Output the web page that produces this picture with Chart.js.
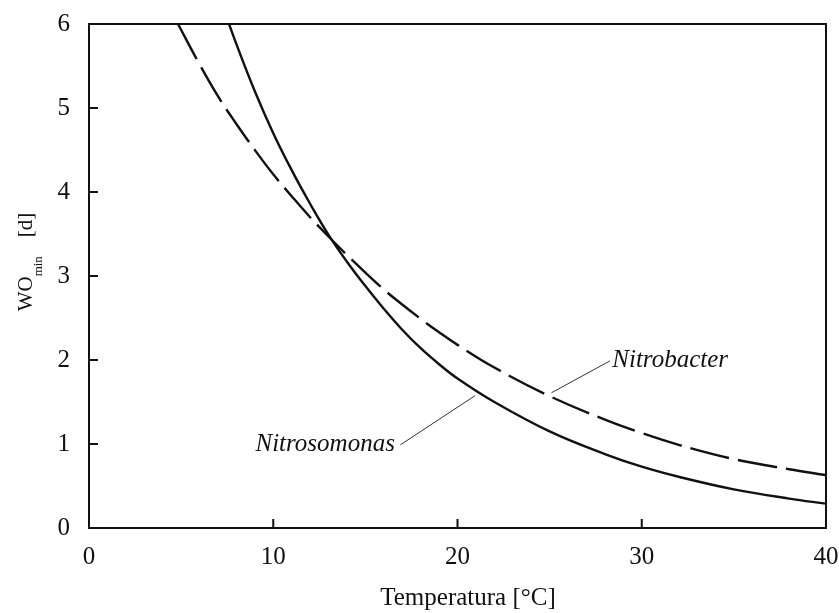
<!DOCTYPE html>
<html>
<head>
<meta charset="utf-8">
<script src="https://cdn.jsdelivr.net/npm/chart.js@4.4.1/dist/chart.umd.min.js"></script>
<style>
  html, body { margin: 0; background: #fff; }
  #wrap { width: 839px; height: 613px; }
</style>
</head>
<body>
<div id="wrap"><canvas id="chart"></canvas></div>
<script>
// WO_min w funkcji temperatury, odczyt z wykresu
const NITROSO_T  = [7.6, 8, 9, 10, 11, 12, 13, 14, 15, 16, 17, 18, 19, 20, 22, 25, 28, 30, 32, 35, 38, 40];
const NITROSO_WO = [6.0, 5.76, 5.2, 4.7, 4.26, 3.86, 3.49, 3.17, 2.88, 2.61, 2.36, 2.14, 1.95, 1.78, 1.5, 1.15, 0.88, 0.73, 0.61, 0.46, 0.35, 0.29];

const NITROBAC_T  = [4.83, 6, 7, 8, 9, 10, 11, 12, 13, 14, 15, 16, 17, 18, 19, 20, 22, 25, 28, 30, 32, 35, 38, 40];
const NITROBAC_WO = [6.0, 5.52, 5.14, 4.81, 4.5, 4.21, 3.95, 3.7, 3.47, 3.25, 3.04, 2.84, 2.66, 2.49, 2.33, 2.18, 1.91, 1.57, 1.29, 1.13, 0.99, 0.82, 0.7, 0.63];

const X_TICKS = [0, 10, 20, 30, 40];
const Y_TICKS = [0, 1, 2, 3, 4, 5, 6];

// etykiety z odnośnikami: [T, WO] w jednostkach wykresu
const LABELS = [
  { text: 'Nitrobacter',  at: [28.4, 1.99], from: [25.1, 1.61], to: [28.28, 1.99], align: 'left' },
  { text: 'Nitrosomonas', at: [16.6, 0.99], from: [16.9, 0.99], to: [20.95, 1.575], align: 'right' }
];

const ink = '#111';
const serif = '"Liberation Serif", "DejaVu Serif", serif';

const toXY = (xs, ys) => xs.map((x, i) => ({ x, y: ys[i] }));

const frame = {
  id: 'frame',
  afterDraw(chart) {
    const { ctx, chartArea: a, scales: { x, y } } = chart;
    ctx.save();
    ctx.strokeStyle = ink;
    ctx.lineWidth = 2;
    ctx.strokeRect(a.left, a.top, a.right - a.left, a.bottom - a.top);
    ctx.beginPath();
    X_TICKS.slice(1, -1).forEach(v => {
      const px = x.getPixelForValue(v);
      ctx.moveTo(px, a.bottom); ctx.lineTo(px, a.bottom - 9);
    });
    Y_TICKS.slice(1, -1).forEach(v => {
      const py = y.getPixelForValue(v);
      ctx.moveTo(a.left, py); ctx.lineTo(a.left + 9, py);
    });
    ctx.stroke();

    // odnośniki i opisy krzywych
    ctx.lineWidth = 1;
    ctx.strokeStyle = '#333';
    ctx.fillStyle = ink;
    ctx.font = 'italic 25px ' + serif;
    ctx.textBaseline = 'middle';
    LABELS.forEach(l => {
      ctx.beginPath();
      ctx.moveTo(x.getPixelForValue(l.from[0]), y.getPixelForValue(l.from[1]));
      ctx.lineTo(x.getPixelForValue(l.to[0]), y.getPixelForValue(l.to[1]));
      ctx.stroke();
      ctx.textAlign = l.align;
      ctx.fillText(l.text, x.getPixelForValue(l.at[0]), y.getPixelForValue(l.at[1]));
    });

    // tytuł osi X (lekko przesunięty w prawo jak w oryginale)
    ctx.font = '25px ' + serif;
    ctx.textAlign = 'center';
    ctx.fillText('Temperatura [°C]', 468, 598);

    // tytuł osi Y z indeksem dolnym
    ctx.translate(25, 262);
    ctx.rotate(-Math.PI / 2);
    ctx.textAlign = 'left';
    ctx.textBaseline = 'alphabetic';
    const big = '21px ' + serif, small = '13px ' + serif, gap = 19;
    ctx.font = big; const w1 = ctx.measureText('WO').width, w3 = ctx.measureText('[d]').width;
    ctx.font = small; const w2 = ctx.measureText('min').width;
    let cx = -(w1 + w2 + gap + w3) / 2;
    ctx.font = big; ctx.fillText('WO', cx, 7); cx += w1;
    ctx.font = small; ctx.fillText('min', cx, 17); cx += w2 + gap;
    ctx.font = big; ctx.fillText('[d]', cx, 7);
    ctx.restore();
  }
};

new Chart(document.getElementById('chart'), {
  type: 'line',
  data: {
    datasets: [
      {
        label: 'Nitrosomonas', data: toXY(NITROSO_T, NITROSO_WO),
        borderColor: ink, borderWidth: 2.4, pointRadius: 0, tension: 0.4
      },
      {
        label: 'Nitrobacter', data: toXY(NITROBAC_T, NITROBAC_WO),
        borderColor: ink, borderWidth: 2.4, pointRadius: 0, borderDash: [40, 9], tension: 0.4
      }
    ]
  },
  options: {
    responsive: true,
    maintainAspectRatio: false,
    animation: false,
    layout: { padding: { left: 0, right: 13, top: 24, bottom: 0 } },
    plugins: { legend: { display: false }, tooltip: { enabled: false } },
    scales: {
      x: {
        type: 'linear', min: 0, max: 40,
        afterFit: s => { s.height = 85; s.paddingLeft = 0; s.paddingRight = 0; },
        afterBuildTicks: s => { s.ticks = X_TICKS.map(v => ({ value: v })); },
        grid: { display: false, drawTicks: false },
        border: { display: false },
        ticks: { font: { family: serif, size: 25 }, color: ink, padding: 14, maxRotation: 0 }
      },
      y: {
        type: 'linear', min: 0, max: 6,
        afterFit: s => { s.width = 89; s.paddingTop = 0; s.paddingBottom = 0; },
        afterBuildTicks: s => { s.ticks = Y_TICKS.map(v => ({ value: v })); },
        grid: { display: false, drawTicks: false },
        border: { display: false },
        ticks: { font: { family: serif, size: 25 }, color: ink, padding: 19 }
      }
    }
  },
  plugins: [frame]
});
</script>
</body>
</html>
